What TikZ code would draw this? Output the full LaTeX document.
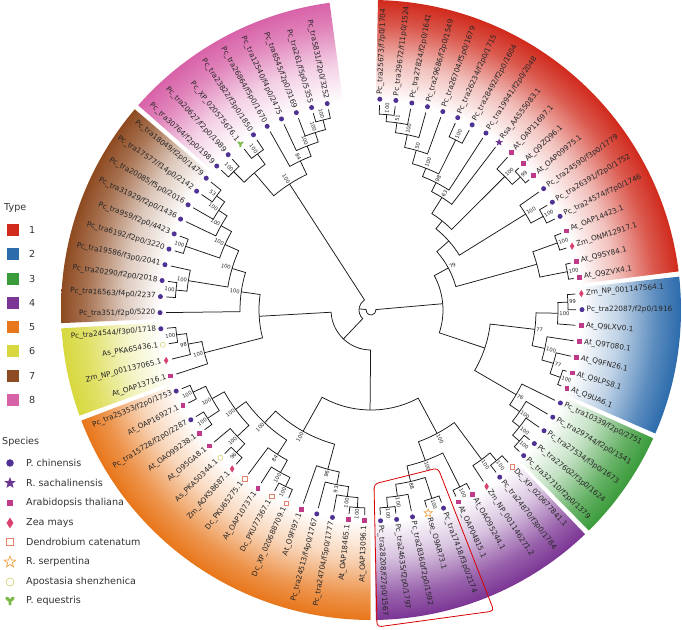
\documentclass[tikz,border=0pt]{standalone}
\usepackage{fontspec}
\setmainfont{DejaVu Sans}
\usetikzlibrary{shapes.geometric}
\definecolor{cT1}{HTML}{D02A1C}
\definecolor{cT2}{HTML}{2C6BAC}
\definecolor{cT3}{HTML}{3A9B3A}
\definecolor{cT4}{HTML}{7B3594}
\definecolor{cT5}{HTML}{E8761A}
\definecolor{cT6}{HTML}{D8D83E}
\definecolor{cT7}{HTML}{8E4A20}
\definecolor{cT8}{HTML}{D862A8}
\definecolor{cPc}{HTML}{4E3192}
\definecolor{cRsa}{HTML}{6B3592}
\definecolor{cAt}{HTML}{BF3A88}
\definecolor{cZm}{HTML}{D9426E}
\definecolor{cDc}{HTML}{E8806A}
\definecolor{cRse}{HTML}{F0A040}
\definecolor{cAs}{HTML}{D6D67A}
\definecolor{cPe}{HTML}{7AB846}
\pgfdeclareradialshading{shT1}{\pgfpointorigin}{color(0bp)=(white); color(17bp)=(white); color(20bp)=(cT1!30!white); color(23bp)=(cT1!78!white); color(25bp)=(cT1); color(50bp)=(cT1)}
\pgfdeclareradialshading{shT2}{\pgfpointorigin}{color(0bp)=(white); color(17bp)=(white); color(20bp)=(cT2!30!white); color(23bp)=(cT2!78!white); color(25bp)=(cT2); color(50bp)=(cT2)}
\pgfdeclareradialshading{shT3}{\pgfpointorigin}{color(0bp)=(white); color(17bp)=(white); color(20bp)=(cT3!30!white); color(23bp)=(cT3!78!white); color(25bp)=(cT3); color(50bp)=(cT3)}
\pgfdeclareradialshading{shT4}{\pgfpointorigin}{color(0bp)=(white); color(17bp)=(white); color(20bp)=(cT4!30!white); color(23bp)=(cT4!78!white); color(25bp)=(cT4); color(50bp)=(cT4)}
\pgfdeclareradialshading{shT5}{\pgfpointorigin}{color(0bp)=(white); color(17bp)=(white); color(20bp)=(cT5!30!white); color(23bp)=(cT5!78!white); color(25bp)=(cT5); color(50bp)=(cT5)}
\pgfdeclareradialshading{shT6}{\pgfpointorigin}{color(0bp)=(white); color(17bp)=(white); color(20bp)=(cT6!30!white); color(23bp)=(cT6!78!white); color(25bp)=(cT6); color(50bp)=(cT6)}
\pgfdeclareradialshading{shT7}{\pgfpointorigin}{color(0bp)=(white); color(17bp)=(white); color(20bp)=(cT7!30!white); color(23bp)=(cT7!78!white); color(25bp)=(cT7); color(50bp)=(cT7)}
\pgfdeclareradialshading{shT8}{\pgfpointorigin}{color(0bp)=(white); color(17bp)=(white); color(20bp)=(cT8!30!white); color(23bp)=(cT8!78!white); color(25bp)=(cT8); color(50bp)=(cT8)}

% sector: first leaf, last leaf, shading, extra start, extra end
\newcommand\sector[5]{%
  \pgfmathsetmacro\sa{87.6-(#1-1)*4.375+#4}%
  \pgfmathsetmacro\sb{87.6-(#2-1)*4.375-#5}%
  \begin{scope}
    \clip (\sa:190) arc[start angle=\sa,end angle=\sb,radius=190] -- (\sb:310) arc[start angle=\sb,end angle=\sa,radius=310] -- cycle;
    \shade[shading=#3] (0,0) circle[radius=310];
  \end{scope}}

% leaf: index, symbol style, label
\newcommand\leaf[3]{%
  \pgfmathsetmacro\la{87.6-(#1-1)*4.375}%
  \expandafter\xdef\csname tA@L#1\endcsname{\la}%
  \expandafter\xdef\csname tR@L#1\endcsname{205}%
  \pgfmathsetmacro\lan{mod(\la+1080,360)}%
  \pgfmathtruncatemacro\lright{(\lan<90||\lan>270)?1:0}%
  \node[#2] (s#1) at (\la:211) {};
  \ifnum\lright=1
    \node[lbl,rotate=\la,anchor=west] (t#1) at (\la:215.5) {#3};
  \else
    \pgfmathsetmacro\lrot{\la+180}%
    \node[lbl,rotate=\lrot,anchor=east] (t#1) at (\la:215.5) {#3};
  \fi}

% internal node: name, radius, child1, child2, bootstrap
\newcommand\tnode[5]{%
  \edef\ca{\csname tA@#3\endcsname}\edef\cb{\csname tA@#4\endcsname}%
  \edef\ra{\csname tR@#3\endcsname}\edef\rb{\csname tR@#4\endcsname}%
  \pgfmathsetmacro\tkm{(\ca+\cb)/2}%
  \expandafter\xdef\csname tA@#1\endcsname{\tkm}%
  \expandafter\xdef\csname tR@#1\endcsname{#2}%
  \draw[br] (\ca:\ra) -- (\ca:#2) arc[start angle=\ca,end angle=\cb,radius=#2] -- (\cb:\rb);
  \if\relax\detokenize{#5}\relax\else
    \pgfmathsetmacro\tn{mod(\tkm+1080,360)}%
    \pgfmathtruncatemacro\tright{(\tn<90||\tn>270)?1:0}%
    \pgfmathsetmacro\brad{#2+1}%
    \ifnum\tright=1
      \node[bs,rotate=\tkm,anchor=west] (b#1) at (\tkm:\brad) {#5};
    \else
      \pgfmathsetmacro\brot{\tkm+180}%
      \node[bs,rotate=\brot,anchor=east] (b#1) at (\tkm:\brad) {#5};
    \fi
  \fi}

\begin{document}
\begin{tikzpicture}[x=1pt,y=1pt,
  br/.style={draw=black!90,line width=0.75pt},
  lbl/.style={font=\fontsize{7.3}{8}\selectfont,text=black!85,inner sep=0pt},
  bs/.style={font=\fontsize{5.2}{6}\selectfont,text=black!85,inner sep=0.3pt},
  sPc/.style={circle,fill=cPc,inner sep=0pt,minimum size=5pt},
  sAt/.style={rectangle,fill=cAt,inner sep=0pt,minimum size=4.8pt},
  sZm/.style={diamond,fill=cZm,inner sep=0pt,minimum width=4.6pt,minimum height=7.5pt},
  sDc/.style={rectangle,draw=cDc,fill=white,line width=0.6pt,inner sep=0pt,minimum size=4.6pt},
  sRsa/.style={star,star points=5,star point ratio=2.4,fill=cRsa,inner sep=0pt,minimum size=8pt},
  sRse/.style={star,star points=5,star point ratio=2.4,draw=cRse,fill=white,line width=0.6pt,inner sep=0pt,minimum size=8.5pt},
  sAs/.style={circle,draw=cAs,fill=white,line width=0.6pt,inner sep=0pt,minimum size=5pt},
  sPe/.style={inner sep=0pt,minimum size=0pt},
  legtxt/.style={font=\fontsize{9.6}{11}\selectfont,text=black!80,anchor=west,inner sep=0pt},
]
\useasboundingbox (0,0) rectangle (682,629);
\fill[white] (0,0) rectangle (682,629);

\begin{scope}[shift={(371,319)}]
% coloured sectors
\sector{1}{19}{shT1}{1.1}{1.7}
\sector{20}{26}{shT2}{1.7}{1.7}
\sector{27}{31}{shT3}{1.7}{1.7}
\sector{32}{41}{shT4}{1.7}{1.7}
\sector{42}{57}{shT5}{1.7}{1.7}
\sector{58}{61}{shT6}{1.7}{1.7}
\sector{62}{71}{shT7}{1.7}{1.7}
\sector{72}{80}{shT8}{1.7}{4.3}

% leaves
\leaf{1}{sPc}{Pc\_tra25673/f7p0/1704}
\leaf{2}{sPc}{Pc\_tra29672/f11p0/1524}
\leaf{3}{sPc}{Pc\_tra27824/f2p0/1641}
\leaf{4}{sPc}{Pc\_tra29686/f2p0/1549}
\leaf{5}{sPc}{Pc\_tra26704/f5p0/1679}
\leaf{6}{sPc}{Pc\_tra26234/f2p0/1715}
\leaf{7}{sPc}{Pc\_tra28492/f2p0/1604}
\leaf{8}{sPc}{Pc\_tra19941/f2p0/2048}
\leaf{9}{sRsa}{Rsa\_AAS55083.1}
\leaf{10}{sAt}{At\_OAP11697.1}
\leaf{11}{sAt}{At\_Q9ZQ96.1}
\leaf{12}{sAt}{At\_OAP09975.1}
\leaf{13}{sPc}{Pc\_tra24590/f3p0/1779}
\leaf{14}{sPc}{Pc\_tra26391/f2p0/1752}
\leaf{15}{sPc}{Pc\_tra24574/f7p0/1746}
\leaf{16}{sAt}{At\_OAP14423.1}
\leaf{17}{sZm}{Zm\_ONM12917.1}
\leaf{18}{sAt}{At\_Q9SY84.1}
\leaf{19}{sAt}{At\_Q9ZVX4.1}
\leaf{20}{sZm}{Zm\_NP\_001147564.1}
\leaf{21}{sPc}{Pc\_tra22087/f2p0/1916}
\leaf{22}{sAt}{At\_Q9LXV0.1}
\leaf{23}{sAt}{At\_Q9T080.1}
\leaf{24}{sAt}{At\_Q9FN26.1}
\leaf{25}{sAt}{At\_Q9LPS8.1}
\leaf{26}{sAt}{At\_Q9UA6.1}
\leaf{27}{sPc}{Pc\_tra10339/f2p0/2751}
\leaf{28}{sPc}{Pc\_tra29744/f2p0/1541}
\leaf{29}{sPc}{Pc\_tra27534/f3p0/1673}
\leaf{30}{sPc}{Pc\_tra27602/f3p0/1624}
\leaf{31}{sPc}{Pc\_tra32710/f2p0/1379}
\leaf{32}{sDc}{Dc\_XP\_020677841.1}
\leaf{33}{sPc}{Pc\_tra24870/f3p0/1784}
\leaf{34}{sZm}{Zm\_NP\_001146271.2}
\leaf{35}{sAt}{At\_OAO95244.1}
\leaf{36}{sAt}{At\_OAP04815.1}
\leaf{37}{sPc}{Pc\_tra17418/f3p0/2174}
\leaf{38}{sRse}{Rse\_O9AR73.1}
\leaf{39}{sPc}{Pc\_tra28360/f2p0/1592}
\leaf{40}{sPc}{Pc\_tra24635/f2p0/1797}
\leaf{41}{sPc}{Pc\_tra28208/f27p0/1567}
\leaf{42}{sAt}{At\_OAP13096.1}
\leaf{43}{sAt}{At\_OAP18465.1}
\leaf{44}{sPc}{Pc\_tra24704/f5p0/1777}
\leaf{45}{sPc}{Pc\_tra24513/f4p0/1767}
\leaf{46}{sAt}{At\_O9FI97.1}
\leaf{47}{sDc}{Dc\_XP\_020688709.1}
\leaf{48}{sDc}{Dc\_PKU77367.1}
\leaf{49}{sAt}{At\_OAP10737.1}
\leaf{50}{sDc}{Dc\_PKU65275.1}
\leaf{51}{sZm}{Zm\_AOK58687.1}
\leaf{52}{sAs}{As\_PKA50344.1}
\leaf{53}{sAt}{At\_O95GA8.1}
\leaf{54}{sAt}{At\_OAO99238.1}
\leaf{55}{sPc}{Pc\_tra15728/f2p0/2287}
\leaf{56}{sAt}{At\_OAP16927.1}
\leaf{57}{sPc}{Pc\_tra25353/f2p0/1753}
\leaf{58}{sAt}{At\_OAP13716.1}
\leaf{59}{sZm}{Zm\_NP\_001137065.1}
\leaf{60}{sAs}{As\_PKA65436.1}
\leaf{61}{sPc}{Pc\_tra24544/f3p0/1718}
\leaf{62}{sPc}{Pc\_tra351/f2p0/5220}
\leaf{63}{sPc}{Pc\_tra16563/f4p0/2237}
\leaf{64}{sPc}{Pc\_tra20290/f2p0/2018}
\leaf{65}{sPc}{Pc\_tra19586/f3p0/2041}
\leaf{66}{sPc}{Pc\_tra6192/f2p0/3220}
\leaf{67}{sPc}{Pc\_tra959/f2p0/4423}
\leaf{68}{sPc}{Pc\_tra31929/f2p0/1436}
\leaf{69}{sPc}{Pc\_tra20085/f5p0/2016}
\leaf{70}{sPc}{Pc\_tra17577/f14p0/2142}
\leaf{71}{sPc}{Pc\_tra18049/f2p0/1479}
\leaf{72}{sPc}{Pc\_tra30764/f2p0/1989}
\leaf{73}{sPc}{Pc\_tra20627/f2p0/1989}
\leaf{74}{sPe}{Pc\_XP\_020575676.1}
\leaf{75}{sPc}{Pc\_tra23822/f3p0/1850}
\leaf{76}{sPc}{Pc\_tra26864/f5p0/1670}
\leaf{77}{sPc}{Pc\_tra12540/f4p0/2475}
\leaf{78}{sPc}{Pc\_tra6545/f2p0/3169}
\leaf{79}{sPc}{Pc\_tra261/f5p0/5355}
\leaf{80}{sPc}{Pc\_tra5831/f2p0/3252}
\fill[cPe,shift={(s74.center)}] (-3.4,2.4) .. controls (-1.6,3.8) and (-0.5,2.2) .. (0,1.3) .. controls (0.5,2.2) and (1.6,3.8) .. (3.4,2.4) .. controls (2.6,0.4) .. (1,-0.4) -- (1,-3) -- (-1,-3) -- (-1,-0.4) .. controls (-2.6,0.4) .. cycle;

% type 1
\tnode{N1}{196}{L1}{L2}{100}
\tnode{N2}{189}{N1}{L3}{51}
\tnode{N3}{179}{N2}{L4}{100}
\tnode{N4}{166}{N3}{L5}{50}
\tnode{N5}{190}{L6}{L7}{100}
\tnode{N6}{152}{N4}{N5}{100}
\tnode{N7}{143}{N6}{L8}{98}
\tnode{N8}{133}{N7}{L9}{63}
\tnode{N9}{200}{L11}{L12}{99}
\tnode{N10}{189}{L10}{N9}{100}
\tnode{N11}{114}{N8}{N10}{}
\tnode{N12}{196}{L14}{L15}{100}
\tnode{N13}{182}{L13}{N12}{100}
\tnode{N14}{104}{N11}{N13}{}
\tnode{N15}{198}{L16}{L17}{100}
\tnode{N16}{200}{L18}{L19}{100}
\tnode{N17}{172}{N15}{N16}{}
\tnode{N18}{88}{N14}{N17}{79}
% type 2
\tnode{B1}{197}{L20}{L21}{99}
\tnode{B2}{187}{B1}{L22}{100}
\tnode{B3}{201}{L25}{L26}{100}
\tnode{B4}{190}{L24}{B3}{77}
\tnode{B5}{178}{L23}{B4}{100}
\tnode{B6}{165}{B2}{B5}{77}
% type 3
\tnode{G1}{198}{L30}{L31}{100}
\tnode{G2}{189}{L29}{G1}{100}
\tnode{G3}{180}{L28}{G2}{100}
\tnode{G4}{168}{L27}{G3}{76}
\tnode{BG}{120}{B6}{G4}{}
% type 4
\tnode{P1}{196}{L32}{L33}{100}
\tnode{P2}{186}{P1}{L34}{100}
\tnode{P3}{198}{L35}{L36}{100}
\tnode{P4}{198}{L37}{L38}{100}
\tnode{P5}{198}{L40}{L41}{100}
\tnode{P6}{188}{L39}{P5}{100}
\tnode{P7}{176}{P4}{P6}{88}
\tnode{P8}{160}{P3}{P7}{100}
\tnode{P9}{140}{P2}{P8}{100}
% type 5
\tnode{O1}{198}{L42}{L43}{100}
\tnode{O2}{188}{O1}{L44}{100}
\tnode{O3}{178}{O2}{L45}{93}
\tnode{O4}{165}{O3}{L46}{96}
\tnode{O5}{196}{L47}{L48}{100}
\tnode{O6}{186}{O5}{L49}{100}
\tnode{O7}{172}{O6}{L50}{84}
\tnode{O8}{196}{L51}{L52}{96}
\tnode{O9}{184}{O8}{L53}{100}
\tnode{O10}{196}{L54}{L55}{100}
\tnode{O11}{196}{L56}{L57}{100}
\tnode{O12}{182}{O10}{O11}{100}
\tnode{O13}{168}{O9}{O12}{100}
\tnode{O14}{155}{O7}{O13}{100}
\tnode{O15}{139}{O4}{O14}{100}
% type 6
\tnode{Y1}{196}{L60}{L61}{100}
\tnode{Y2}{186}{L59}{Y1}{98}
\tnode{Y3}{172}{L58}{Y2}{100}
% type 7
\tnode{Br1}{196}{L63}{L64}{100}
\tnode{Br2}{185}{Br1}{L65}{100}
\tnode{Br3}{196}{L66}{L67}{100}
\tnode{Br4}{192}{L70}{L71}{53}
\tnode{Br5}{182}{L69}{Br4}{100}
\tnode{Br6}{172}{L68}{Br5}{100}
\tnode{Br7}{160}{Br3}{Br6}{100}
\tnode{Br8}{145}{Br2}{Br7}{100}
\tnode{Br9}{131}{L62}{Br8}{100}
% type 8
\tnode{Pk1}{196}{L79}{L80}{100}
\tnode{Pk2}{186}{L78}{Pk1}{100}
\tnode{Pk3}{176}{L77}{Pk2}{100}
\tnode{Pk4}{165}{L76}{Pk3}{84}
\tnode{Pk5}{195}{L72}{L73}{100}
\tnode{Pk6}{193}{L74}{L75}{100}
\tnode{Pk7}{180}{Pk5}{Pk6}{}
\tnode{Pk8}{150}{Pk7}{Pk4}{100}
% backbone
\tnode{D1}{112}{Y3}{Br9}{}
\tnode{D2}{100}{P9}{O15}{}
\tnode{D3}{40}{D2}{D1}{}
\tnode{D4}{72}{N18}{BG}{}
\tnode{D5}{12}{D3}{Pk8}{}
\tnode{D6}{5}{D4}{D5}{}
\end{scope}

% highlight box
\draw[red!85!black,line width=0.8pt,rounded corners=4pt] (374,145) -- (438,161) -- (494,18) -- (377,2) -- cycle;

% legend: Type
\node[legtxt] (lt) at (4,421) {Type};
\foreach \k/\c in {1/cT1,2/cT2,3/cT3,4/cT4,5/cT5,6/cT6,7/cT7,8/cT8}{
  \pgfmathsetmacro\yy{629-230-(\k-1)*24.3}
  \fill[\c] (7,\yy-6) rectangle (19,\yy+6);
  \node[legtxt] (lk\k) at (29,\yy) {\k};
}
% legend: Species
\node[legtxt] (ls) at (2,187) {Species};
\node[circle,fill=cPc,inner sep=0pt,minimum size=7.5pt] (g1) at (10,166) {};
\node[legtxt] (h1) at (26,166) {P. chinensis};
\node[star,star points=5,star point ratio=2.4,fill=cRsa,inner sep=0pt,minimum size=12pt] (g2) at (10,146) {};
\node[legtxt] (h2) at (26,146) {R. sachalinensis};
\node[rectangle,fill=cAt,inner sep=0pt,minimum size=6.5pt] (g3) at (10,126) {};
\node[legtxt] (h3) at (26,126) {Arabidopsis thaliana};
\node[diamond,fill=cZm,inner sep=0pt,minimum width=7pt,minimum height=11pt] (g4) at (10,106) {};
\node[legtxt] (h4) at (26,106) {Zea mays};
\node[rectangle,draw=cDc,fill=white,line width=0.7pt,inner sep=0pt,minimum size=7pt] (g5) at (10,87) {};
\node[legtxt] (h5) at (26,87) {Dendrobium catenatum};
\node[star,star points=5,star point ratio=2.4,draw=cRse,fill=white,line width=0.7pt,inner sep=0pt,minimum size=12pt] (g6) at (10,67) {};
\node[legtxt] (h6) at (26,67) {R. serpentina};
\node[circle,draw=cAs,fill=white,line width=0.7pt,inner sep=0pt,minimum size=8pt] (g7) at (10,47) {};
\node[legtxt] (h7) at (26,47) {Apostasia shenzhenica};
\coordinate (g8) at (10,28);
\fill[cPe,shift={(g8)},scale=1.4] (-3.4,2.4) .. controls (-1.6,3.8) and (-0.5,2.2) .. (0,1.3) .. controls (0.5,2.2) and (1.6,3.8) .. (3.4,2.4) .. controls (2.6,0.4) .. (1,-0.4) -- (1,-3) -- (-1,-3) -- (-1,-0.4) .. controls (-2.6,0.4) .. cycle;
\node[legtxt] (h8) at (26,28) {P. equestris};
\end{tikzpicture}
\end{document}
